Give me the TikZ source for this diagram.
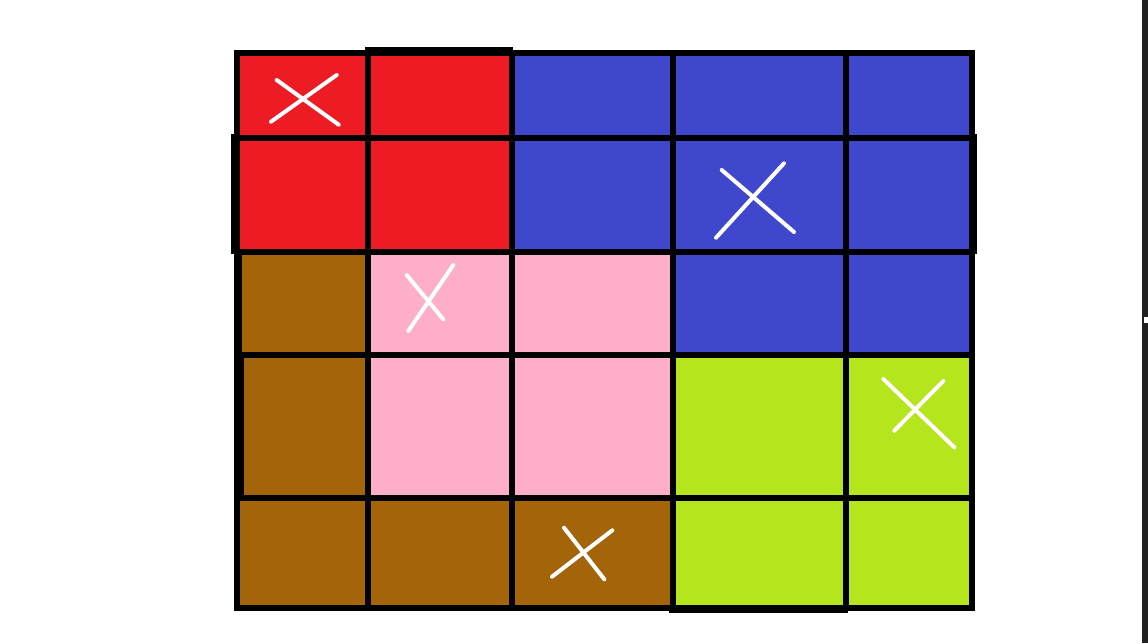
\documentclass[tikz,border=0pt]{standalone}
\usepackage{tikz}
\usetikzlibrary{positioning}
\usepackage{xcolor}

\definecolor{tilered}{HTML}{ED1C24}
\definecolor{tileblue}{HTML}{3F48CC}
\definecolor{tilebrown}{HTML}{A3640A}
\definecolor{tilepink}{HTML}{FFAEC9}
\definecolor{tilelime}{HTML}{B5E61D}

\begin{document}
\begin{tikzpicture}[
    x=0.02cm, y=-0.02cm,
    gridline/.style = {draw=black, line width=0.12cm, line cap=rect},
    thickbit/.style = {fill=black},
    crossmark/.style = {draw=white, line width=0.08cm, line cap=round},
    edgebar/.style = {fill=black!87}
]

% Canvas
\fill[white] (0,0) rectangle (1148,643);
\useasboundingbox (0,0) rectangle (1148,643);

% Coloured regions
\fill[tilered] (237,53) rectangle (512,252);
\fill[tileblue] (512,53) rectangle (971,252);
\fill[tileblue] (673,252) rectangle (971,355);
\fill[tilebrown] (237,252) rectangle (368,608);
\fill[tilebrown] (368,498) rectangle (673,608);
\fill[tilepink] (368,252) rectangle (673,498);
\fill[tilelime] (673,355) rectangle (971,608);

% Grid
\foreach \gx in {237,367.5,511.5,672.5,845.5,971.5}
    \draw[gridline] (\gx,53) -- (\gx,608);
\foreach \gy in {53,137.5,252,355,498,608}
    \draw[gridline] (237,\gy) -- (971.5,\gy);

% Heavier strokes
\fill[thickbit] (365,47) rectangle (513,56);
\fill[thickbit] (231,134) rectangle (240,254);
\fill[thickbit] (969,134) rectangle (977,254);
\fill[thickbit] (234,252) rectangle (242,355);
\fill[thickbit] (234,355) rectangle (244,498);
\fill[thickbit] (669,605) rectangle (848,613);

% Crosses
\draw[crossmark] (276.7,80) -- (338.7,124.7);
\draw[crossmark] (271,121.7) -- (336.7,75);
\draw[crossmark] (721.7,170) -- (794,232);
\draw[crossmark] (716,237.7) -- (784,163.3);
\draw[crossmark] (406.7,275) -- (443.3,319.3);
\draw[crossmark] (408.3,331) -- (453.3,265);
\draw[crossmark] (883.3,379) -- (954.3,447.3);
\draw[crossmark] (894.3,430.7) -- (943.3,381);
\draw[crossmark] (564,527.7) -- (604.3,579.3);
\draw[crossmark] (552,576.7) -- (612.3,530.3);

% Right edge
\fill[edgebar] (1142,0) rectangle (1148,643);
\fill[white] (1144,317) rectangle (1148,323);

\end{tikzpicture}
\end{document}
